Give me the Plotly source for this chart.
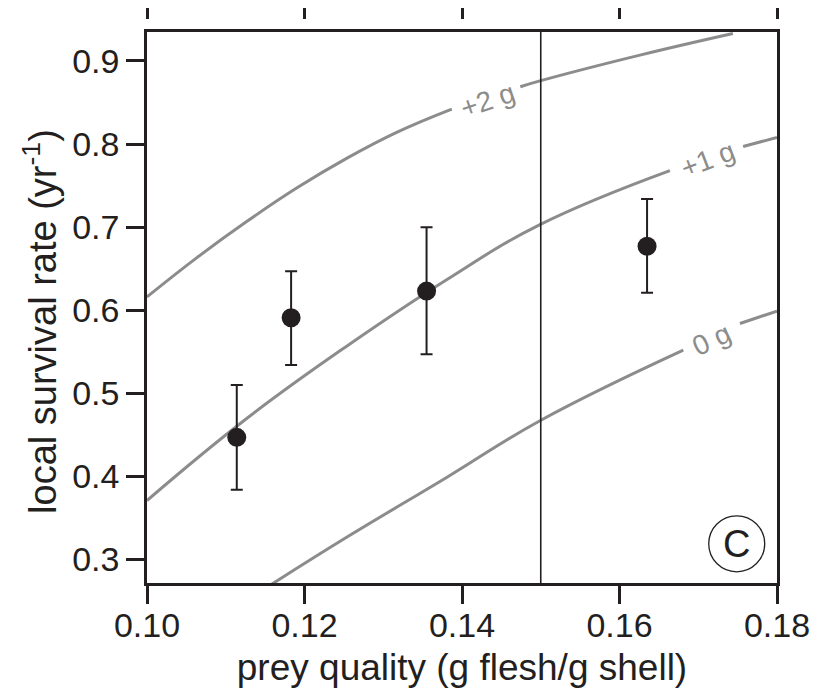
import plotly.graph_objects as go

# ---- data ----
prey_quality = [0.1114, 0.1183, 0.1355, 0.1635]
survival = [0.447, 0.591, 0.623, 0.677]
err_plus = [0.063, 0.056, 0.077, 0.057]
err_minus = [0.063, 0.057, 0.076, 0.056]

# iso-lines (a gap is left where each label sits)
g2_x_a = [0.1000, 0.1063, 0.1127, 0.1190, 0.1254, 0.1317, 0.1387]
g2_y_a = [0.616, 0.663, 0.707, 0.747, 0.783, 0.814, 0.842]
g2_x_b = [0.1474, 0.1499, 0.1626, 0.1744]
g2_y_b = [0.869, 0.876, 0.907, 0.933]

g1_x_a = [0.1000, 0.1127, 0.1254, 0.1381, 0.1499, 0.1664]
g1_y_a = [0.371, 0.470, 0.557, 0.637, 0.703, 0.768]
g1_x_b = [0.1757, 0.1800]
g1_y_b = [0.797, 0.808]

g0_x_a = [0.1158, 0.1254, 0.1381, 0.1499, 0.1681]
g0_y_a = [0.270, 0.327, 0.399, 0.467, 0.552]
g0_x_b = [0.1753, 0.1800]
g0_y_b = [0.584, 0.599]

labels = ["+2 g", "+1 g", "0 g"]
label_x = [0.1432, 0.1712, 0.1717]
label_y = [0.853, 0.782, 0.565]
label_angle = [-19, -21, -25]

threshold_x = 0.15
x_ticks = [0.10, 0.12, 0.14, 0.16, 0.18]
x_tick_text = ["0.10", "0.12", "0.14", "0.16", "0.18"]
y_ticks = [0.3, 0.4, 0.5, 0.6, 0.7, 0.8, 0.9]
y_tick_text = ["0.3", "0.4", "0.5", "0.6", "0.7", "0.8", "0.9"]
x_range = [0.10, 0.18]
y_range = [0.2717, 0.9349]
x_title = "prey quality (g flesh/g shell)"
y_title = "local survival rate (yr<sup>-1</sup>)"

DARK = "#231f20"
GRAY = "#8c8c8c"
FONT = "Liberation Sans, Arial, sans-serif"

fig = go.Figure()

for xs, ys in [(g2_x_a, g2_y_a), (g2_x_b, g2_y_b), (g1_x_a, g1_y_a),
               (g1_x_b, g1_y_b), (g0_x_a, g0_y_a), (g0_x_b, g0_y_b)]:
    fig.add_trace(go.Scatter(x=xs, y=ys, mode="lines",
                             line=dict(color=GRAY, width=3, shape="spline",
                                       smoothing=1.2),
                             hoverinfo="skip", showlegend=False))

# vertical reference line, drawn on the top (tick-only) axis
fig.add_trace(go.Scatter(x=[threshold_x, threshold_x], y=y_range, mode="lines",
                         xaxis="x2", line=dict(color=DARK, width=1.6),
                         hoverinfo="skip", showlegend=False))

fig.add_trace(go.Scatter(
    x=prey_quality, y=survival, mode="markers",
    marker=dict(color=DARK, size=19),
    error_y=dict(type="data", symmetric=False, array=err_plus,
                 arrayminus=err_minus, color=DARK, thickness=2, width=6),
    showlegend=False))

for t, lx, ly, ang in zip(labels, label_x, label_y, label_angle):
    fig.add_annotation(x=lx, y=ly, text=t, showarrow=False, textangle=ang,
                       font=dict(family=FONT, size=28, color=GRAY))

# panel marker (C)
fig.add_shape(type="circle", xref="x", yref="y",
              x0=0.17133, x1=0.17844, y0=0.2852, y1=0.3526,
              line=dict(color=DARK, width=1.3))
fig.add_annotation(x=0.17488, y=0.3189, text="C", showarrow=False,
                   font=dict(family=FONT, size=38, color=DARK))

# y-axis title placed as a rotated annotation for exact position
fig.add_annotation(xref="paper", yref="paper", x=-0.170, y=0.4645,
                   text=y_title, textangle=-90, showarrow=False,
                   xanchor="center", yanchor="middle",
                   font=dict(family=FONT, size=38, color=DARK))

# page body has an 8px margin, so the figure is 8px smaller than the window
fig.update_layout(
    width=819, height=691,
    margin=dict(l=139, r=50, t=11, b=116),
    paper_bgcolor="white", plot_bgcolor="white",
    font=dict(family=FONT, size=34, color=DARK),
    xaxis=dict(range=x_range, tickvals=x_ticks, ticktext=x_tick_text,
               ticks="outside", ticklen=18, tickwidth=2.5, tickcolor=DARK,
               showline=True, linecolor=DARK, linewidth=2.5, mirror=True,
               showgrid=False, zeroline=False, automargin=False,
               ticklabelstandoff=-8,
               title=dict(text=x_title, standoff=12, font=dict(size=37))),
    xaxis2=dict(range=x_range, tickvals=x_ticks, overlaying="x", side="top",
                anchor="free", position=1, ticks="outside", ticklen=11,
                tickwidth=2.5, tickcolor=DARK, showticklabels=False,
                showline=False, showgrid=False, zeroline=False,
                automargin=False),
    yaxis=dict(range=y_range, domain=[0, 0.977], tickvals=y_ticks,
               ticktext=y_tick_text, ticks="outside", ticklen=18, tickwidth=2.5,
               tickcolor=DARK, showline=True, linecolor=DARK, linewidth=2.5,
               mirror=True, showgrid=False, zeroline=False, automargin=False,
               ticklabelstandoff=0),
)

fig.write_html("out.html")
